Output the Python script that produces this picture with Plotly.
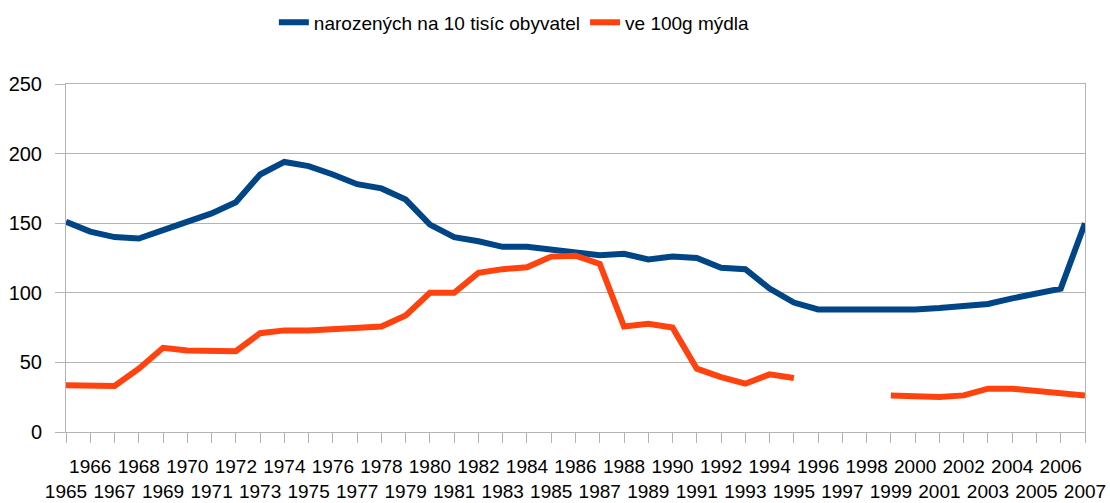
import plotly.graph_objects as go

years = list(range(1965, 2008))

births_per_10k = [151, 144, 140, 139, 145, 151, 157, 165, 185, 194,
                  191, 185, 178, 175, 167, 149, 140, 137, 133, 133,
                  131, 130, 127, 128, 124, 126, 125, 118, 117, 103,
                  93, 88, 88, 88, 87, 88, 89, 91, 92, 96,
                  100, 103, 150]

per_100g_soap = [33.5, 33.5, 33, 45.5, 60.5, 58.6, 58.1, 58, 71, 73,
                 73, 74, 75, 75.8, 83.7, 100, 100, 114.4, 117, 118.4,
                 126, 126.6, 120.8, 75.8, 77.8, 75, 45.5, 39.5, 34.7, 41.4,
                 38.8, None, None, None, 26.3, 25.6, 25.1, 26.3, 31.1, 31.1,
                 29.4, 28.7, 26.3]

y_ticks = [0, 50, 100, 150, 200, 250]

# even years on the upper row, odd years pushed to a second line
tick_text = [str(y) if y % 2 == 0 else "<br>" + str(y) for y in years]

FONT = "Liberation Sans, Arial, sans-serif"
GRID = "#b3b3b3"

fig = go.Figure()
fig.add_trace(go.Scatter(
    x=years, y=births_per_10k, mode="lines",
    name="narozených na 10 tisíc obyvatel",
    line=dict(color="#004586", width=6),
))
fig.add_trace(go.Scatter(
    x=years, y=per_100g_soap, mode="lines",
    name="ve 100g mýdla",
    line=dict(color="#ff420e", width=6),
    connectgaps=False,
))

fig.update_layout(
    width=1110, height=503,
    margin=dict(l=66, r=25, t=84, b=71, autoexpand=False),
    paper_bgcolor="white", plot_bgcolor="white",
    font=dict(family=FONT, size=19, color="#000000"),
    showlegend=True,
    legend=dict(
        orientation="h", x=0.44, xanchor="center", y=0.993, yanchor="top",
        yref="container", font=dict(size=19), bgcolor="rgba(0,0,0,0)",
        itemwidth=30, tracegroupgap=0,
    ),
)

fig.update_xaxes(
    range=[1965, 2007], tickmode="array", tickvals=years, ticktext=tick_text,
    tickangle=0, ticks="outside", ticklen=10, tickcolor=GRID,
    showline=True, linecolor=GRID, linewidth=1, mirror=True,
    showgrid=False, zeroline=False, automargin=False,
    ticklabelstandoff=7, tickfont=dict(size=19),
)
fig.update_yaxes(
    range=[0, 250], tickmode="array", tickvals=y_ticks,
    ticks="outside", ticklen=10, tickcolor=GRID,
    showline=True, linecolor=GRID, linewidth=1, mirror=True,
    showgrid=True, gridcolor=GRID, gridwidth=1, zeroline=False,
    automargin=False, ticklabelstandoff=9, tickfont=dict(size=20),
)

fig.write_html("out.html")
